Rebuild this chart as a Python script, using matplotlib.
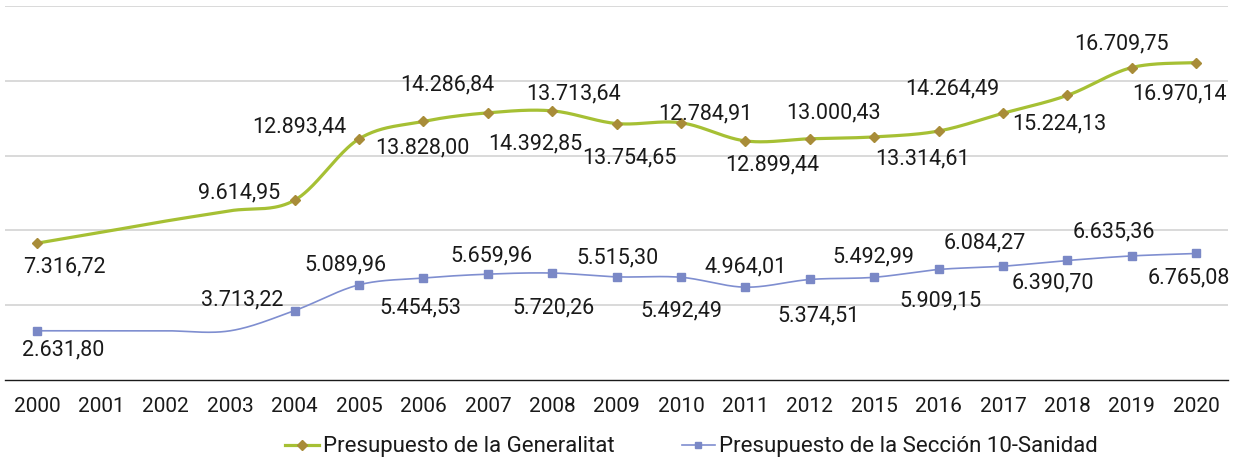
import numpy as np
import matplotlib
matplotlib.use("Agg")
import matplotlib.pyplot as plt

# ---------------- data ----------------
years = ["2000", "2001", "2002", "2003", "2004", "2005", "2006", "2007", "2008",
         "2009", "2010", "2011", "2012", "2015", "2016", "2017", "2018", "2019", "2020"]
generalitat = [7316.72, 7900.0, 8500.0, 9050.0, 9614.95, 12893.44, 13828.00, 14286.84,
               14392.85, 13713.64, 13754.65, 12784.91, 12899.44, 13000.43, 13314.61,
               14264.49, 15224.13, 16709.75, 16970.14]
sanidad = [2631.80, 2632.0, 2632.0, 2632.0, 3713.22, 5089.96, 5454.53, 5659.96, 5720.26,
           5515.30, 5492.49, 4964.01, 5374.51, 5492.99, 5909.15, 6084.27, 6390.70,
           6635.36, 6765.08]
labeled_idx = [0, 4, 5, 6, 7, 8, 9, 10, 11, 12, 13, 14, 15, 16, 17, 18]
series_names = ["Presupuesto de la Generalitat", "Presupuesto de la Sección 10-Sanidad"]

# label offsets (pixels, x right / y up) for the labelled points
gen_offsets = [(27, -24), (-56, 7), (-60, 12), (-1, -27), (-41, 28), (-17, -33), (-43, 30),
               (-52, -35), (-40, 27), (-38, -26), (-41, 24), (-16, -28), (-51, 24),
               (-8, -29), (-10, 24), (-17, -31)]
san_offsets = [(26, -19), (-52, 11), (-14, 20), (-3, -30), (4, 18), (1, -35), (1, 19),
               (0, -34), (0, 20), (9, -36), (-1, 20), (2, -31), (-18, 23), (-15, -22),
               (-18, 24), (-7, -24)]

GEN_LINE = "#A6C034"
GEN_MARK = "#A88C38"
SAN_LINE = "#7F8ED0"
SAN_MARK = "#7A88C6"


def fmt_es(v):
    s = f"{v:,.2f}"
    return s.replace(",", "X").replace(".", ",").replace("X", ".")


def smooth(xs, ys, n=40):
    xs = np.asarray(xs, float)
    ys = np.asarray(ys, float)
    P = np.column_stack([xs, ys])
    out = []
    for i in range(len(P) - 1):
        p0 = P[i - 1] if i > 0 else P[i]
        p1 = P[i]
        p2 = P[i + 1]
        p3 = P[i + 2] if i + 2 < len(P) else P[i + 1]
        c1 = p1 + (p2 - p0) / 6.0
        c2 = p2 - (p3 - p1) / 6.0
        t = np.linspace(0, 1, n)[:, None]
        seg = ((1 - t) ** 3) * p1 + 3 * ((1 - t) ** 2) * t * c1 + 3 * (1 - t) * t ** 2 * c2 + t ** 3 * p2
        out.append(seg if i == 0 else seg[1:])
    arr = np.vstack(out)
    return arr[:, 0], arr[:, 1]


plt.rcParams['font.family'] = ['Roboto', 'DejaVu Sans']

fig = plt.figure(figsize=(12.42, 4.65), dpi=100)
ax = fig.add_axes([0.0039, 0.1828, 0.9852, 0.8043])

x = np.arange(len(years))

for vals, lc, mc, lw, mk, ms, offs, name in [
        (generalitat, GEN_LINE, GEN_MARK, 2.3, "D", 5.2, gen_offsets, series_names[0]),
        (sanidad, SAN_LINE, SAN_MARK, 1.2, "s", 5.2, san_offsets, series_names[1])]:
    sx, sy = smooth(x, vals)
    ax.plot(sx, sy, color=lc, lw=lw, solid_capstyle="round", zorder=3)
    xi = [x[i] for i in labeled_idx]
    yi = [vals[i] for i in labeled_idx]
    ax.plot(xi, yi, linestyle="none", marker=mk, ms=ms, color=mc, mec=mc, zorder=4)
    # legend handle
    ax.plot([], [], color=lc, lw=lw, marker=mk, ms=ms * 0.9, mfc=mc, mec=mc, label=name)
    for k, i in enumerate(labeled_idx):
        dx, dy = offs[k]
        ax.annotate(fmt_es(vals[i]), (x[i], vals[i]), xytext=(dx, dy),
                    textcoords="offset pixels", ha="center", va="center",
                    fontsize=15.5, color="#1a1a1a", zorder=5)

ax.set_xlim(-0.5, len(years) - 0.5)
ax.set_ylim(0, 20000)
ax.set_yticks([4000, 8000, 12000, 16000, 20000])
ax.yaxis.grid(True, color="#D9D9D9", lw=1.4)
ax.set_axisbelow(True)
ax.tick_params(axis="y", left=False, labelleft=False)
ax.set_xticks(x)
ax.set_xticklabels(years, fontsize=15, color="#1a1a1a")
ax.tick_params(axis="x", length=0, pad=12.5)
for s in ["left", "right", "top"]:
    ax.spines[s].set_visible(False)
ax.spines["bottom"].set_color("#1a1a1a")
ax.spines["bottom"].set_linewidth(1.0)

leg = fig.legend(loc="center", bbox_to_anchor=(0.557, 0.039), ncol=2, frameon=False,
                 fontsize=16, handlelength=1.5, handletextpad=0.2, columnspacing=3.0)
for t in leg.get_texts():
    t.set_color("#1a1a1a")

fig.savefig("out.png", dpi=100)
